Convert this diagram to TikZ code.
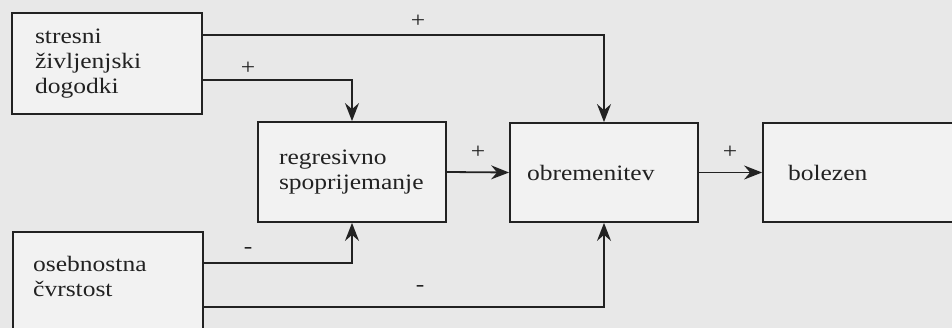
\documentclass[tikz,border=0pt]{standalone}
\usepackage{fontspec}
\setmainfont{Liberation Serif}[FakeStretch=1.16]
\usetikzlibrary{arrows.meta,calc}
\definecolor{bg}{RGB}{232,232,232}
\definecolor{boxbg}{RGB}{242,242,242}
\definecolor{ink}{RGB}{34,34,34}
\tikzset{
  box/.style={draw=ink, line width=1.8pt, fill=boxbg, rectangle, align=left,
    inner ysep=0pt, font=\fontsize{22}{25}\selectfont, text=ink},
  txt/.style={font=\fontsize{22}{25}\selectfont, text=ink, inner sep=0pt},
  sgn/.style={font=\fontsize{22}{22}\selectfont, text=ink, inner sep=0pt},
  conn/.style={draw=ink, line width=1.8pt, -{Stealth[length=18pt,width=14pt,inset=6pt]}}
}
\begin{document}
\begin{tikzpicture}[x=1pt,y=-1pt]
\useasboundingbox (0,0) rectangle (952,328);
\clip (0,0) rectangle (952,328);
\fill[bg] (0,0) rectangle (952,328);

% boxes
\node[box, inner xsep=23pt, text width=144pt, minimum height=101pt] (b1) at (107,63.5) {stresni\\življenjski\\dogodki};
\node[box, inner xsep=21pt, text width=146pt, minimum height=100pt] (b2) at (352,172) {regresivno\\spoprijemanje};
\node[box, inner xsep=17pt, text width=154pt, minimum height=99pt] (b3) at (604,172.5) {obremenitev};
\node[box, inner xsep=25pt, text width=150pt, minimum height=99pt] (b4) at (863,172.5) {bolezen};
\node[box, minimum width=190pt, minimum height=120pt, anchor=north west] (b5) at (12,231) {};
\node[txt, anchor=base west, align=left] (t5) at (33,297) {osebnostna\\čvrstost};

% connectors
\coordinate (c1) at ($(b1.north east)+(0,23)$);
\coordinate (c2) at ($(b1.north east)+(0,68)$);
\coordinate (c3) at ($(b5.north west)+(190,32)$);
\coordinate (c4) at ($(b5.north west)+(190,76)$);
\draw[conn] (c1) -| (b3.north);
\draw[conn] (c2) -| (b2.north);
\draw[conn] (c3) -| (b2.south);
\draw[conn] (c4) -| (b3.south);
\draw[conn] (b2.east) -- (b3.west);
\draw[conn] (b3.east) -- (b4.west);

% signs
\node[sgn] (s1) at (418,21) {+};
\node[sgn] (s2) at (248,68) {+};
\node[sgn] (s3) at (478,152) {+};
\node[sgn] (s4) at (730,152) {+};
\node[sgn] (s5) at (248,250) {-};
\node[sgn] (s6) at (420,288) {-};
\end{tikzpicture}
\end{document}
